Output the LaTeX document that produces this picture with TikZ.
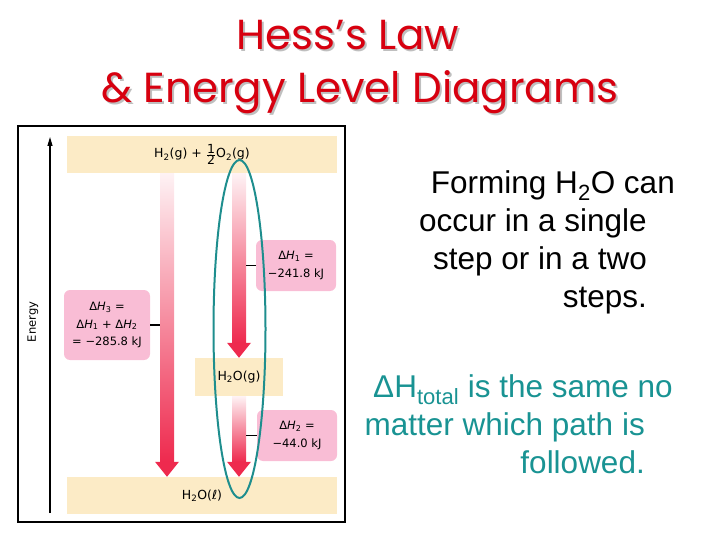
\documentclass[tikz,border=0pt]{standalone}
\usepackage{fontspec}
\setmainfont{Liberation Sans}
\newfontfamily\titlefont{Poppins}
\newfontfamily\labelfont{DejaVu Sans}
\usetikzlibrary{arrows.meta,calc}

\definecolor{bandbeige}{HTML}{FCEBC6}
\definecolor{boxpink}{HTML}{F9BDD5}
\definecolor{arrowred}{HTML}{EE2A4E}
\definecolor{titlered}{HTML}{D7000F}
\definecolor{pathteal}{HTML}{1E8E8E}
\definecolor{textteal}{HTML}{199393}

\newcommand{\sub}[1]{\textsubscript{#1}}
\newcommand{\dH}[1]{Δ\textit{H}\sub{#1}}
\newcommand{\pad}{\rule{28pt}{0pt}}
% shaded arrow from the first point down to the tip at the second point
\newcommand{\energyarrow}[2]{%
  \shade[top color=arrowred!6, bottom color=arrowred]
    let \p1=(#1), \p2=(#2) in (\x1-7pt,\y1) rectangle (\x2+7pt,\y2+15pt);
  \fill[arrowred] let \p2=(#2) in
    (\x2-12pt,\y2+15pt) -- (\x2+12pt,\y2+15pt) -- (\x2,\y2) -- cycle;
}

\tikzset{
  band/.style={fill=bandbeige, inner sep=0pt, font=\labelfont\fontsize{12.5}{14}\selectfont},
  dhbox/.style={fill=boxpink, rounded corners=6pt, inner sep=0pt, align=center,
    font=\labelfont\fontsize{11.5}{17.5}\selectfont},
  tick/.style={line width=1.5pt},
  note/.style={align=right, inner sep=0pt, font=\fontsize{31.5}{38}\selectfont},
  titletext/.style={inner sep=0pt, anchor=base, font=\titlefont\fontsize{42}{48}\selectfont}
}

\begin{document}
\begin{tikzpicture}[x=1pt,y=-1pt]
  \useasboundingbox (0,0) rectangle (720,540);

  % title with its shadow
  \node[titletext, text=black!25] (shadowa) at (350,52) {Hess’s Law};
  \node[titletext, text=titlered] (titlea) at (348,50) {Hess’s Law};
  \node[titletext, text=black!25] (shadowb) at (362,105) {\& Energy Level Diagrams};
  \node[titletext, text=titlered] (titleb) at (360,103) {\& Energy Level Diagrams};

  % frame and energy axis
  \draw[line width=1.5pt] (18,126) rectangle (345,522);
  \draw[line width=1.2pt, -{Triangle[width=5pt,length=9pt]}] (50,513) -- (50,137);
  \node[rotate=90, font=\labelfont\fontsize{11.5}{13}\selectfont] (energy) at (33,322) {Energy};

  % energy levels
  \node[band, minimum width=270, minimum height=37] (reactants) at (202,154.5)
    {H\sub{2}(g) + $\frac{\hbox{1}}{\hbox{2}}$O\sub{2}(g)};
  \node[band, minimum width=88, minimum height=38] (gas) at (239,377) {H\sub{2}O(g)};
  \node[band, minimum width=270, minimum height=37] (liquid) at (202,495.5) {H\sub{2}O(ℓ)};

  \coordinate (single) at (167,0);
  \coordinate (double) at (239,0);

  % arrows
  \energyarrow{reactants.south -| single}{liquid.north -| single}
  \energyarrow{reactants.south -| double}{gas.north -| double}
  \energyarrow{gas.south -| double}{liquid.north -| double}

  % enthalpy boxes
  \node[dhbox, minimum width=80, minimum height=51] (dh1) at (296,265.5)
    {\dH{1} =\\−241.8 kJ};
  \node[dhbox, minimum width=86, minimum height=70] (dh3) at (107,325)
    {\dH{3} =\\\dH{1} + \dH{2}\\= −285.8 kJ};
  \node[dhbox, minimum width=80, minimum height=51] (dh2) at (297,435.5)
    {\dH{2} =\\−44.0 kJ};

  \draw[tick] (dh1.west) -- ([xshift=7pt]dh1.west -| double);
  \draw[tick] (dh3.east) -- ([xshift=-7pt]dh3.east -| single);
  \draw[tick] (dh2.west) -- ([xshift=7pt]dh2.west -| double);

  % the two-step path
  \draw[pathteal, line width=2pt] (239.5,329) ellipse [x radius=26, y radius=169];

  % notes
  \node[note, anchor=north east] (forming) at (675,170.5)
    {Forming H\sub{2}O can\\occur in a single\pad\\step or in a two\pad\\steps.\pad};
  \node[note, anchor=north east, text=textteal] (total) at (673,374)
    {ΔH\sub{total} is the same no\\matter which path is\pad\\followed.\pad};
\end{tikzpicture}
\end{document}
